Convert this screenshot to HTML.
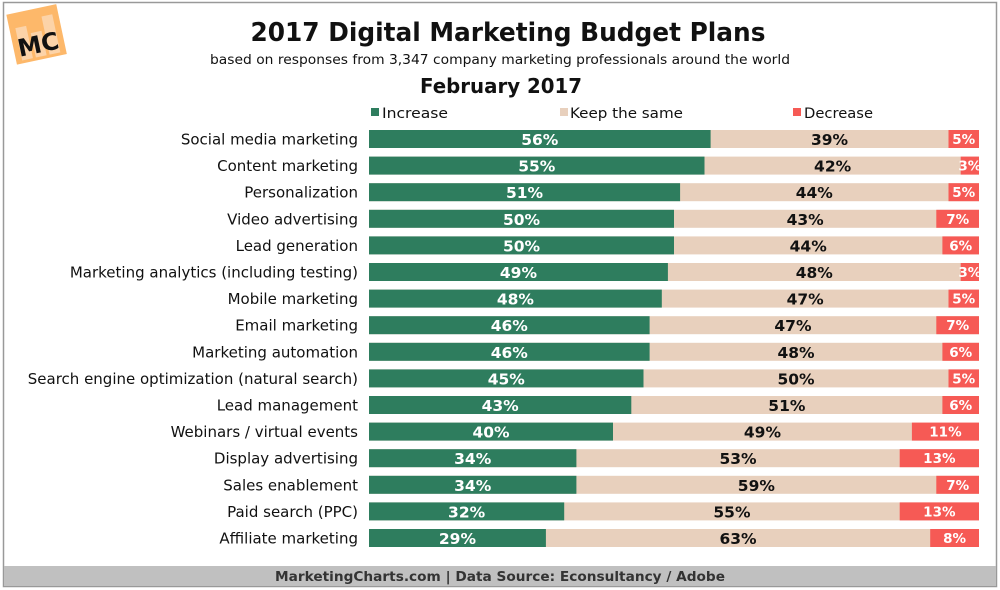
<!DOCTYPE html>
<html><head><meta charset="utf-8"><style>
html,body{margin:0;padding:0;background:#fff;}
svg{display:block;}
text{font-family:"DejaVu Sans","Liberation Sans",sans-serif;}
</style></head><body>
<svg width="1000" height="590" viewBox="0 0 1000 590" xmlns="http://www.w3.org/2000/svg">
<rect x="3.5" y="2.5" width="993" height="584" fill="#fff" stroke="#999" stroke-width="1.5"/>
<rect x="4" y="566" width="992" height="20" fill="#c0c0c0"/>
<text x="500" y="581" text-anchor="middle" font-size="13.5" font-weight="bold" fill="#333" textLength="450" lengthAdjust="spacingAndGlyphs">MarketingCharts.com | Data Source: Econsultancy / Adobe</text>
<!-- logo -->
<g transform="rotate(-12 36 34)">
<rect x="11" y="9" width="51" height="51" fill="#fdb86a"/>
<rect x="17" y="24" width="11" height="33" fill="#fcd3a8"/>
<rect x="31" y="32" width="11" height="25" fill="#fcd3a8"/>
<rect x="45" y="18" width="11" height="39" fill="#fcd3a8"/>
<text x="36" y="53" text-anchor="middle" font-size="24" font-weight="bold" fill="#111">MC</text>
</g>
<text x="508" y="41" text-anchor="middle" font-size="26" font-weight="bold" fill="#111" textLength="515" lengthAdjust="spacingAndGlyphs">2017 Digital Marketing Budget Plans</text>
<text x="500" y="64" text-anchor="middle" font-size="13" fill="#111" textLength="580" lengthAdjust="spacingAndGlyphs">based on responses from 3,347 company marketing professionals around the world</text>
<text x="501" y="93" text-anchor="middle" font-size="20" font-weight="bold" fill="#111" textLength="162" lengthAdjust="spacingAndGlyphs">February 2017</text>
<rect x="371" y="108" width="8" height="8" fill="#2e7d5e"/>
<text x="382" y="118" font-size="14" fill="#111" textLength="66" lengthAdjust="spacingAndGlyphs">Increase</text>
<rect x="560" y="108" width="8" height="8" fill="#e8d0bd"/>
<text x="570" y="118" font-size="14" fill="#111" textLength="113" lengthAdjust="spacingAndGlyphs">Keep the same</text>
<rect x="793" y="108" width="8" height="8" fill="#f65a55"/>
<text x="804" y="118" font-size="14" fill="#111" textLength="69" lengthAdjust="spacingAndGlyphs">Decrease</text>
<g id="bars"></g>
</svg>
<script>
var d=[["Social media marketing",56,39,5],["Content marketing",55,42,3],["Personalization",51,44,5],["Video advertising",50,43,7],["Lead generation",50,44,6],["Marketing analytics (including testing)",49,48,3],["Mobile marketing",48,47,5],["Email marketing",46,47,7],["Marketing automation",46,48,6],["Search engine optimization (natural search)",45,50,5],["Lead management",43,51,6],["Webinars / virtual events",40,49,11],["Display advertising",34,53,13],["Sales enablement",34,59,7],["Paid search (PPC)",32,55,13],["Affiliate marketing",29,63,8]];
var s="",x0=369,W=610;
d.forEach(function(r,i){var y=130+i*26.6,t=r[1]+r[2]+r[3];
var g=W*r[1]/t,k=W*r[2]/t,dd=W*r[3]/t;
s+='<text x="358" y="'+(y+14.5)+'" text-anchor="end" font-size="15" fill="#111">'+r[0]+'</text>';
s+='<rect x="'+x0+'" y="'+y+'" width="'+W+'" height="18" fill="#e8d0bd"/>';
s+='<rect x="'+x0+'" y="'+y+'" width="'+g+'" height="18" fill="#2e7d5e"/>';
s+='<rect x="'+(x0+W-dd)+'" y="'+y+'" width="'+dd+'" height="18" fill="#f65a55"/>';
s+='<text x="'+(x0+g/2)+'" y="'+(y+15)+'" text-anchor="middle" font-size="15.5" font-weight="bold" fill="#fff">'+r[1]+'%</text>';
s+='<text x="'+(x0+g+k/2)+'" y="'+(y+15)+'" text-anchor="middle" font-size="15.5" font-weight="bold" fill="#111">'+r[2]+'%</text>';
s+='<text x="'+(x0+W-dd/2)+'" y="'+(y+14)+'" text-anchor="middle" font-size="13.5" font-weight="bold" fill="#fff">'+r[3]+'%</text>';
});
document.getElementById("bars").innerHTML=s;
</script>
</body></html>
